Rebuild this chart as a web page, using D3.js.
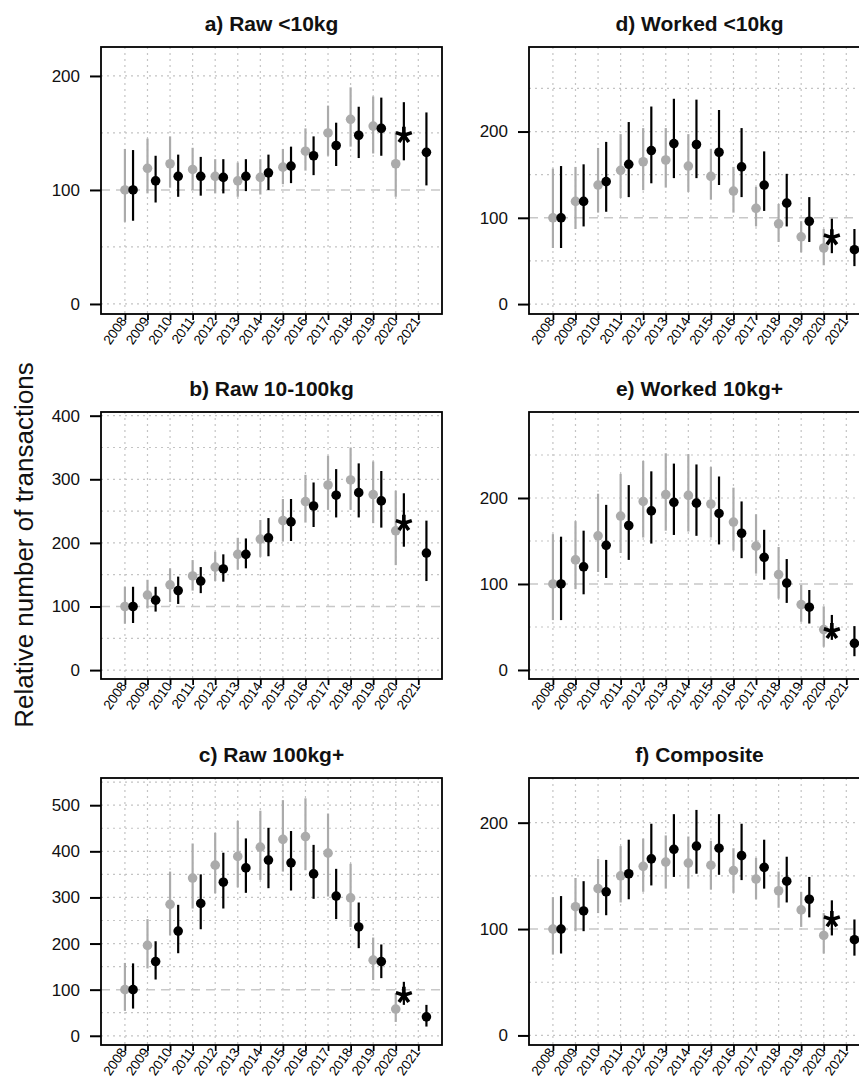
<!DOCTYPE html>
<html><head><meta charset="utf-8">
<script src="https://cdn.jsdelivr.net/npm/d3@7"></script>
<style>body{margin:0;background:#fff} svg{display:block;font-family:"Liberation Sans",Arial,sans-serif}</style>
</head><body><svg id="c" width="859" height="1079"></svg>
<script>
const years = [2008,2009,2010,2011,2012,2013,2014,2015,2016,2017,2018,2019,2020,2021];
const titles = ["a) Raw <10kg","b) Raw 10-100kg","c) Raw 100kg+","d) Worked <10kg","e) Worked 10kg+","f) Composite"];
const yLabel = "Relative number of transactions";
const ticksA = [0,100,200];
const ticksB = [0,100,200,300,400];
const ticksC = [0,100,200,300,400,500];
const ticksD = [0,100,200];
const ticksE = [0,100,200];
const ticksF = [0,100,200];
// [estimate, lower, upper]; grey = 2008-2020, black = 2008-2021 (2020 black shown as star)
const rawSmallGrey = [[100,72,136],[119,97,145],[123,102,147],[118,100,137],[112,97,127],[108,94,124],[111,96,127],[120,105,136],[134,117,154],[150,130,174],[162,138,190],[156,132,182],[123,94,151]];
const rawSmallBlack = [[100,73,135],[108,89,130],[112,94,131],[112,95,129],[111,97,127],[112,99,127],[115,100,131],[121,106,138],[130,113,147],[139,121,159],[148,128,173],[154,130,181],[148,126,177],[133,104,168]];
const rawMidGrey = [[100,73,131],[118,97,142],[134,107,160],[148,125,173],[162,140,186],[182,158,208],[206,178,236],[235,202,269],[265,232,307],[291,252,337],[299,252,350],[276,231,328],[219,165,282]];
const rawMidBlack = [[100,74,131],[110,92,131],[125,104,147],[140,121,162],[159,139,182],[182,160,207],[208,179,239],[233,203,269],[258,225,295],[275,240,316],[279,240,325],[266,224,313],[231,194,278],[184,140,235]];
const rawLargeGrey = [[100,54,158],[196,146,253],[285,218,356],[342,276,417],[370,309,440],[389,322,466],[409,338,488],[426,356,511],[432,359,515],[396,302,482],[299,236,373],[164,121,213],[58,30,92]];
const rawLargeBlack = [[100,59,157],[161,122,205],[227,179,284],[287,231,350],[333,276,397],[364,310,428],[381,320,451],[375,315,444],[351,297,414],[303,253,362],[236,190,289],[161,125,198],[88,67,117],[41,20,67]];
const workedSmallGrey = [[100,65,157],[119,87,159],[138,106,181],[155,123,197],[165,132,204],[167,135,204],[160,130,197],[148,121,180],[131,106,159],[111,90,136],[93,72,116],[78,60,96],[65,45,87]];
const workedSmallBlack = [[100,65,160],[119,90,162],[142,107,188],[162,124,211],[178,140,229],[186,146,238],[185,146,237],[176,138,225],[159,124,204],[138,108,177],[117,90,151],[96,72,124],[77,59,99],[63,44,87]];
const workedLargeGrey = [[100,58,158],[128,94,173],[156,114,205],[179,136,228],[196,154,243],[204,162,252],[203,161,251],[193,154,236],[172,139,212],[144,112,181],[111,83,143],[76,56,99],[47,27,74]];
const workedLargeBlack = [[100,58,155],[120,88,162],[145,107,192],[168,128,215],[185,147,231],[195,157,240],[194,156,239],[182,146,225],[159,130,196],[131,105,163],[101,78,129],[73,54,93],[45,35,64],[31,16,51]];
const compositeGrey = [[100,76,130],[121,98,148],[138,115,166],[150,125,178],[159,135,185],[163,138,188],[162,138,187],[160,137,183],[155,134,176],[147,128,167],[136,120,154],[118,102,135],[94,77,115]];
const compositeBlack = [[100,77,131],[117,98,145],[135,113,165],[152,128,184],[166,141,199],[175,149,208],[178,152,212],[176,151,208],[169,146,199],[158,138,184],[145,125,168],[128,111,149],[109,94,127],[90,75,109]];

const svg = d3.select("#c");
const W = 341, H = 267;
const lefts = [101, 529], tops = [47, 412, 778];
const GREY = "#ababab";
const panels = [
  {title:titles[0], grey:rawSmallGrey, black:rawSmallBlack, ticks:ticksA, dom:[-8.8,225.4], col:0, row:0},
  {title:titles[1], grey:rawMidGrey, black:rawMidBlack, ticks:ticksB, dom:[-14,405.8], col:0, row:1},
  {title:titles[2], grey:rawLargeGrey, black:rawLargeBlack, ticks:ticksC, dom:[-20,559], col:0, row:2},
  {title:titles[3], grey:workedSmallGrey, black:workedSmallBlack, ticks:ticksD, dom:[-11.5,298], col:1, row:0},
  {title:titles[4], grey:workedLargeGrey, black:workedLargeBlack, ticks:ticksE, dom:[-10.5,300], col:1, row:1},
  {title:titles[5], grey:compositeGrey, black:compositeBlack, ticks:ticksF, dom:[-9,242], col:1, row:2}
];
const x = d3.scaleLinear().domain([2006.94, 2022.05]).range([0, W]);
const off = 0.36;
const asterisk5 = { draw(ctx, size) { const r = Math.sqrt(size);
  for (let i = 0; i < 5; i++) { const a = -Math.PI/2 + i*2*Math.PI/5; ctx.moveTo(0,0); ctx.lineTo(r*Math.cos(a), r*Math.sin(a)); } } };

panels.forEach(p => {
  const g = svg.append("g").attr("transform", `translate(${lefts[p.col]},${tops[p.row]})`);
  const y = d3.scaleLinear().domain(p.dom).range([H, 0]);
  g.append("g").selectAll("line").data(years).join("line")
    .attr("x1", d => x(d)).attr("x2", d => x(d)).attr("y1", 0).attr("y2", H)
    .attr("stroke", "#c4c4c4").attr("stroke-width", 1.2).attr("stroke-dasharray", "2,4");
  const hv = d3.range(0, p.dom[1], 50).filter(v => v !== 100);
  g.append("g").selectAll("line").data(hv).join("line")
    .attr("x1", 0).attr("x2", W).attr("y1", d => y(d)).attr("y2", d => y(d))
    .attr("stroke", "#c4c4c4").attr("stroke-width", 1.2).attr("stroke-dasharray", "2,4");
  g.append("line").attr("x1", 0).attr("x2", W).attr("y1", y(100)).attr("y2", y(100))
    .attr("stroke", "#c8c8c8").attr("stroke-width", 1.5).attr("stroke-dasharray", "9,6");
  const gy = p.grey.map((d, i) => ({yr: years[i], m: d[0], lo: d[1], hi: d[2]}));
  const by = p.black.map((d, i) => ({yr: years[i], m: d[0], lo: d[1], hi: d[2]}));
  g.append("g").selectAll("line").data(gy).join("line")
    .attr("x1", d => x(d.yr)).attr("x2", d => x(d.yr)).attr("y1", d => y(d.lo)).attr("y2", d => y(d.hi))
    .attr("stroke", GREY).attr("stroke-width", 2.2);
  g.append("g").selectAll("circle").data(gy).join("circle")
    .attr("cx", d => x(d.yr)).attr("cy", d => y(d.m)).attr("r", 4.8).attr("fill", GREY);
  g.append("g").selectAll("line").data(by).join("line")
    .attr("x1", d => x(d.yr + off)).attr("x2", d => x(d.yr + off)).attr("y1", d => y(d.lo)).attr("y2", d => y(d.hi))
    .attr("stroke", "#000").attr("stroke-width", 2.2);
  g.append("g").selectAll("circle").data(by.filter(d => d.yr !== 2020)).join("circle")
    .attr("cx", d => x(d.yr + off)).attr("cy", d => y(d.m)).attr("r", 4.8).attr("fill", "#000");
  g.append("g").selectAll("path").data(by.filter(d => d.yr === 2020)).join("path")
    .attr("transform", d => `translate(${x(d.yr + off)},${y(d.m)})`)
    .attr("d", d3.symbol().type(asterisk5).size(70))
    .attr("fill", "none").attr("stroke", "#000").attr("stroke-width", 3.6);
  g.append("rect").attr("x", 0).attr("y", 0).attr("width", W).attr("height", H)
    .attr("fill", "none").attr("stroke", "#000").attr("stroke-width", 1.8);
  const ya = g.append("g").call(d3.axisLeft(y).tickValues(p.ticks).tickSize(11).tickPadding(10));
  ya.select(".domain").remove();
  ya.selectAll("line").attr("stroke-width", 2);
  ya.selectAll("text").attr("font-size", 17).attr("fill", "#111").attr("font-family", "Liberation Sans, Arial, sans-serif");
  const xa = g.append("g").attr("transform", `translate(0,${H})`)
    .call(d3.axisBottom(x).tickValues(years).tickSize(6).tickFormat(d3.format("d")));
  xa.select(".domain").remove();
  xa.selectAll("line").attr("stroke-width", 1.8);
  xa.selectAll("text").attr("font-size", 13.5).attr("fill", "#000").attr("font-family", "Liberation Sans, Arial, sans-serif")
    .attr("x", 0).attr("y", 0).attr("dy", 0).attr("text-anchor", "end")
    .attr("transform", "translate(2,7) rotate(-55)");
  g.append("text").attr("x", W/2).attr("y", -16).attr("text-anchor", "middle")
    .attr("font-size", 21).attr("font-weight", "bold").attr("fill", "#111").text(p.title);
});
svg.append("text").attr("transform", "translate(33,545) rotate(-90)").attr("text-anchor", "middle")
  .attr("font-size", 26).attr("fill", "#111").text(yLabel);
</script></body></html>
